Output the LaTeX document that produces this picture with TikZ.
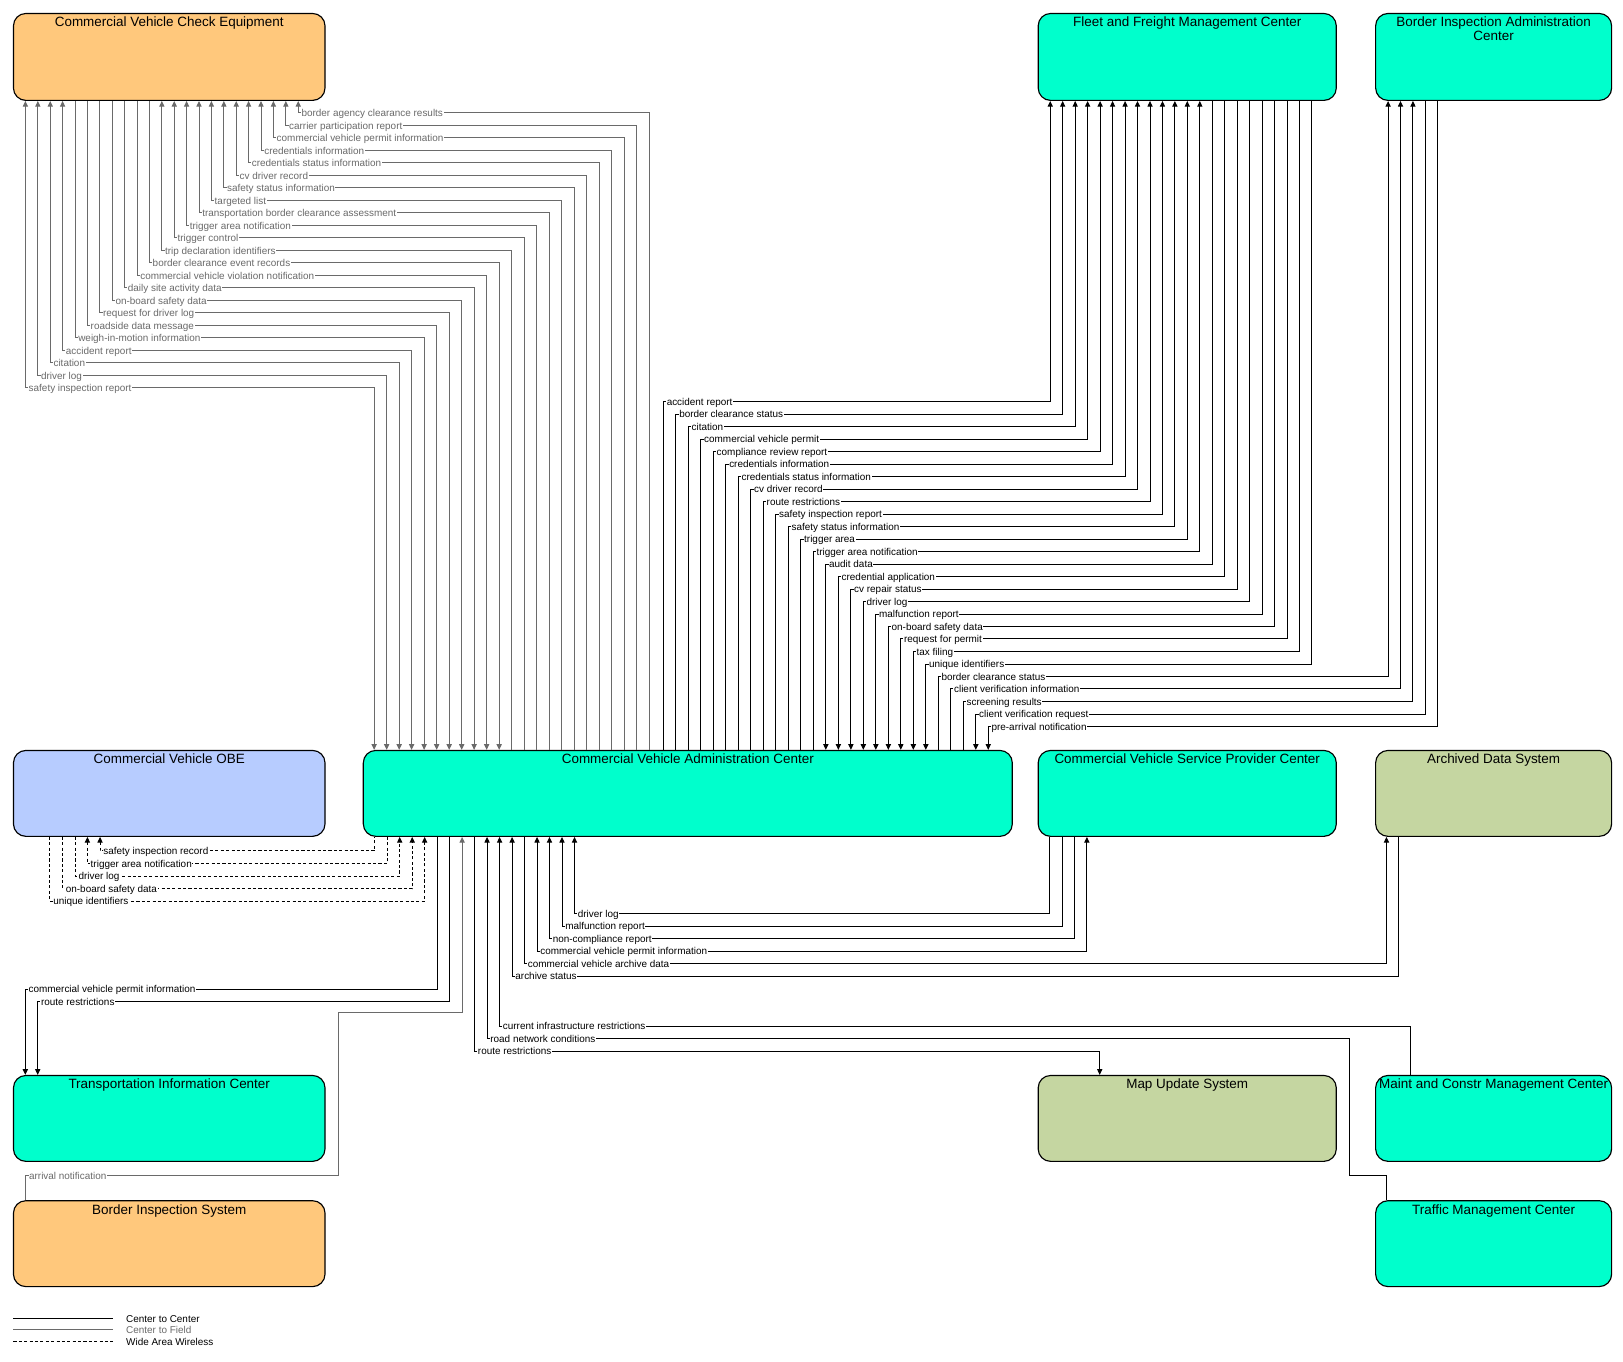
\documentclass[tikz,border=0pt]{standalone}
\usepackage{fontspec}
\setmainfont{Liberation Sans}
\usetikzlibrary{arrows.meta}
\definecolor{ccyan}{HTML}{00FFCC}
\definecolor{corange}{HTML}{FFC87C}
\definecolor{cblue}{HTML}{B7CCFF}
\definecolor{colive}{HTML}{C5D6A1}
\definecolor{cgray}{HTML}{6A6A6A}
\newcommand\lblfont{\fontsize{9.6}{11}\selectfont}
\newcommand\ttlfont{\fontsize{13}{14.2}\selectfont}
% #1 line style, #2 label colour, #3 start anchor, #4 start shift, #5 end anchor, #6 end shift, #7 y, #8 text, #9 label name
\newcommand\flow[9]{%
  \path ([xshift=#4pt]#3) coordinate (pA) ([xshift=#6pt]#5) coordinate (pB);
  \draw[#1] (pA) -- (pA |- 0,#7) -- (pB |- 0,#7) -- (pB);
  \node[lbl,text=#2] (#9) at (pA |- 0,#7) {#8};
}
\tikzset{
  box/.style={draw=black, line width=1.1pt, rounded corners=12pt, inner sep=0pt},
  ttl/.style={font=\ttlfont, anchor=base, inner sep=0pt},
  lbl/.style={font=\lblfont, fill=white, inner sep=0.6pt, anchor=base west, xshift=2.4pt, yshift=-3.6pt},
  leg/.style={font=\lblfont, anchor=base west, inner sep=0pt, yshift=-3.5pt},
  cc/.style={draw=black, line width=0.95pt},
  cf/.style={draw=cgray, line width=0.95pt},
  wa/.style={draw=black, line width=0.95pt, dash pattern=on 3pt off 2.2pt}
}
\begin{document}
\begin{tikzpicture}[x=1pt,y=-1pt,>={Triangle[width=5pt,length=5.5pt]}]
\fill[white] (0,0) rectangle (1568,1315);
\useasboundingbox (0,0) rectangle (1568,1315);

% ---------- boxes ----------
\node[box, fill=corange, minimum width=301pt, minimum height=84pt] (cvce) at (163.5,55) {};
\node[box, fill=ccyan, minimum width=288pt, minimum height=84pt] (ffmc) at (1147,55) {};
\node[box, fill=ccyan, minimum width=228pt, minimum height=84pt] (biac) at (1443,55) {};
\node[box, fill=cblue, minimum width=301pt, minimum height=83pt] (obe) at (163.5,766.5) {};
\node[box, fill=ccyan, minimum width=627pt, minimum height=83pt] (cvac) at (664.5,766.5) {};
\node[box, fill=ccyan, minimum width=288pt, minimum height=83pt] (cvspc) at (1147,766.5) {};
\node[box, fill=colive, minimum width=228pt, minimum height=83pt] (ads) at (1443,766.5) {};
\node[box, fill=ccyan, minimum width=301pt, minimum height=83pt] (tic) at (163.5,1080.5) {};
\node[box, fill=colive, minimum width=288pt, minimum height=83pt] (mus) at (1147,1080.5) {};
\node[box, fill=ccyan, minimum width=228pt, minimum height=83pt] (mcmc) at (1443,1080.5) {};
\node[box, fill=corange, minimum width=301pt, minimum height=83pt] (bis) at (163.5,1201.5) {};
\node[box, fill=ccyan, minimum width=228pt, minimum height=83pt] (tmc) at (1443,1201.5) {};

% ---------- titles ----------
\node[ttl] (cvce-t) at (163.5,26) {Commercial Vehicle Check Equipment};
\node[ttl] (ffmc-t) at (1147,26) {Fleet and Freight Management Center};
\node[ttl] (biac-t1) at (1443,25.3) {Border Inspection Administration};
\node[ttl] (biac-t2) at (1443,39.5) {Center};
\node[ttl] (obe-t) at (163.5,738) {Commercial Vehicle OBE};
\node[ttl] (cvac-t) at (664.5,738) {Commercial Vehicle Administration Center};
\node[ttl] (cvspc-t) at (1147,738) {Commercial Vehicle Service Provider Center};
\node[ttl] (ads-t) at (1443,738) {Archived Data System};
\node[ttl] (tic-t) at (163.5,1052) {Transportation Information Center};
\node[ttl] (mus-t) at (1147,1052) {Map Update System};
\node[ttl] (mcmc-t) at (1443,1052) {Maint and Constr Management Center};
\node[ttl] (bis-t) at (163.5,1173) {Border Inspection System};
\node[ttl] (tmc-t) at (1443,1173) {Traffic Management Center};

% ---------- CVAC <-> Commercial Vehicle Check Equipment ----------
\flow{cf,<->}{cgray}{cvce.south west}{12.1}{cvac.north west}{11.0}{374.8}{safety inspection report}{c0}
\flow{cf,<->}{cgray}{cvce.south west}{24.1}{cvac.north west}{23.1}{362.7}{driver log}{c1}
\flow{cf,<->}{cgray}{cvce.south west}{36.1}{cvac.north west}{35.2}{350.6}{citation}{c2}
\flow{cf,<->}{cgray}{cvce.south west}{48.0}{cvac.north west}{47.2}{338.5}{accident report}{c3}
\flow{cf,->}{cgray}{cvce.south west}{60.0}{cvac.north west}{59.3}{326.4}{weigh-in-motion information}{c4}
\flow{cf,->}{cgray}{cvce.south west}{72.0}{cvac.north west}{71.4}{314.4}{roadside data message}{c5}
\flow{cf,->}{cgray}{cvce.south west}{84.0}{cvac.north west}{83.5}{302.3}{request for driver log}{c6}
\flow{cf,->}{cgray}{cvce.south west}{96.0}{cvac.north west}{95.6}{290.2}{on-board safety data}{c7}
\flow{cf,->}{cgray}{cvce.south west}{107.9}{cvac.north west}{107.6}{278.1}{daily site activity data}{c8}
\flow{cf,->}{cgray}{cvce.south west}{119.9}{cvac.north west}{119.7}{266.0}{commercial vehicle violation notification}{c9}
\flow{cf,->}{cgray}{cvce.south west}{131.9}{cvac.north west}{131.8}{254.0}{border clearance event records}{c10}
\flow{cf,<-}{cgray}{cvce.south west}{143.9}{cvac.north west}{143.9}{241.9}{trip declaration identifiers}{c11}
\flow{cf,<-}{cgray}{cvce.south west}{155.9}{cvac.north west}{156.0}{229.8}{trigger control}{c12}
\flow{cf,<-}{cgray}{cvce.south west}{167.8}{cvac.north west}{168.0}{217.7}{trigger area notification}{c13}
\flow{cf,<-}{cgray}{cvce.south west}{179.8}{cvac.north west}{180.1}{205.6}{transportation border clearance assessment}{c14}
\flow{cf,<-}{cgray}{cvce.south west}{191.8}{cvac.north west}{192.2}{193.6}{targeted list}{c15}
\flow{cf,<-}{cgray}{cvce.south west}{203.8}{cvac.north west}{204.3}{181.5}{safety status information}{c16}
\flow{cf,<-}{cgray}{cvce.south west}{215.8}{cvac.north west}{216.4}{169.4}{cv driver record}{c17}
\flow{cf,<-}{cgray}{cvce.south west}{227.7}{cvac.north west}{228.4}{157.3}{credentials status information}{c18}
\flow{cf,<-}{cgray}{cvce.south west}{239.7}{cvac.north west}{240.5}{145.2}{credentials information}{c19}
\flow{cf,<-}{cgray}{cvce.south west}{251.7}{cvac.north west}{252.6}{133.2}{commercial vehicle permit information}{c20}
\flow{cf,<-}{cgray}{cvce.south west}{263.7}{cvac.north west}{264.7}{121.1}{carrier participation report}{c21}
\flow{cf,<-}{cgray}{cvce.south west}{275.7}{cvac.north west}{276.8}{109.0}{border agency clearance results}{c22}

% ---------- CVAC <-> Fleet and Freight Management Center ----------
\flow{cc,->}{black}{cvac.north west}{290.5}{ffmc.south west}{12.2}{388.0}{accident report}{f0}
\flow{cc,->}{black}{cvac.north west}{302.6}{ffmc.south west}{24.2}{400.1}{border clearance status}{f1}
\flow{cc,->}{black}{cvac.north west}{314.6}{ffmc.south west}{36.3}{412.1}{citation}{f2}
\flow{cc,->}{black}{cvac.north west}{326.7}{ffmc.south west}{48.3}{424.2}{commercial vehicle permit}{f3}
\flow{cc,->}{black}{cvac.north west}{338.8}{ffmc.south west}{60.4}{436.3}{compliance review report}{f4}
\flow{cc,->}{black}{cvac.north west}{350.9}{ffmc.south west}{72.4}{448.4}{credentials information}{f5}
\flow{cc,->}{black}{cvac.north west}{362.9}{ffmc.south west}{84.5}{460.4}{credentials status information}{f6}
\flow{cc,->}{black}{cvac.north west}{375.0}{ffmc.south west}{96.5}{472.5}{cv driver record}{f7}
\flow{cc,->}{black}{cvac.north west}{387.1}{ffmc.south west}{108.6}{484.6}{route restrictions}{f8}
\flow{cc,->}{black}{cvac.north west}{399.1}{ffmc.south west}{120.6}{496.6}{safety inspection report}{f9}
\flow{cc,->}{black}{cvac.north west}{411.2}{ffmc.south west}{132.6}{508.7}{safety status information}{f10}
\flow{cc,->}{black}{cvac.north west}{423.3}{ffmc.south west}{144.6}{520.8}{trigger area}{f11}
\flow{cc,->}{black}{cvac.north west}{435.3}{ffmc.south west}{156.7}{532.8}{trigger area notification}{f12}
\flow{cc,<-}{black}{cvac.north west}{447.4}{ffmc.south west}{168.7}{544.9}{audit data}{f13}
\flow{cc,<-}{black}{cvac.north west}{459.5}{ffmc.south west}{180.8}{557.0}{credential application}{f14}
\flow{cc,<-}{black}{cvac.north west}{471.6}{ffmc.south west}{192.8}{569.1}{cv repair status}{f15}
\flow{cc,<-}{black}{cvac.north west}{483.6}{ffmc.south west}{204.8}{581.1}{driver log}{f16}
\flow{cc,<-}{black}{cvac.north west}{495.7}{ffmc.south west}{216.9}{593.2}{malfunction report}{f17}
\flow{cc,<-}{black}{cvac.north west}{507.8}{ffmc.south west}{228.9}{605.3}{on-board safety data}{f18}
\flow{cc,<-}{black}{cvac.north west}{519.8}{ffmc.south west}{241.0}{617.3}{request for permit}{f19}
\flow{cc,<-}{black}{cvac.north west}{531.9}{ffmc.south west}{253.0}{629.4}{tax filing}{f20}
\flow{cc,<-}{black}{cvac.north west}{544.0}{ffmc.south west}{265.0}{641.5}{unique identifiers}{f21}

% ---------- CVAC <-> Border Inspection Administration Center ----------
\flow{cc,->}{black}{cvac.north west}{556.0}{biac.south west}{12.6}{653.5}{border clearance status}{b0}
\flow{cc,->}{black}{cvac.north west}{568.1}{biac.south west}{24.6}{665.6}{client verification information}{b1}
\flow{cc,->}{black}{cvac.north west}{580.2}{biac.south west}{36.6}{677.7}{screening results}{b2}
\flow{cc,<-}{black}{cvac.north west}{592.3}{biac.south west}{48.6}{689.8}{client verification request}{b3}
\flow{cc,<-}{black}{cvac.north west}{604.3}{biac.south west}{60.6}{701.8}{pre-arrival notification}{b4}

% ---------- CVAC <-> Commercial Vehicle OBE ----------
\flow{wa,<-}{black}{obe.south west}{84.2}{cvac.south west}{11.6}{822.0}{safety inspection record}{o0}
\flow{wa,<-}{black}{obe.south west}{72.0}{cvac.south west}{23.7}{834.2}{trigger area notification}{o1}
\flow{wa,->}{black}{obe.south west}{60.2}{cvac.south west}{35.7}{846.3}{driver log}{o2}
\flow{wa,->}{black}{obe.south west}{48.0}{cvac.south west}{47.8}{858.5}{on-board safety data}{o3}
\flow{wa,->}{black}{obe.south west}{35.8}{cvac.south west}{59.8}{870.6}{unique identifiers}{o4}

% ---------- CVAC <-> Transportation Information Center ----------
\flow{cc,<-}{black}{tic.north west}{12.0}{cvac.south west}{71.9}{955.6}{commercial vehicle permit information}{t0}
\flow{cc,<-}{black}{tic.north west}{24.0}{cvac.south west}{84.0}{967.7}{route restrictions}{t1}

% ---------- CVAC <-> Service Provider / Archive ----------
\flow{cc,<-}{black}{cvac.south west}{204.6}{cvspc.south west}{11.9}{882.5}{driver log}{s0}
\flow{cc,<-}{black}{cvac.south west}{192.5}{cvspc.south west}{23.7}{894.6}{malfunction report}{s1}
\flow{cc,<-}{black}{cvac.south west}{180.4}{cvspc.south west}{35.8}{906.7}{non-compliance report}{s2}
\flow{cc,<->}{black}{cvac.south west}{168.4}{cvspc.south west}{47.6}{918.8}{commercial vehicle permit information}{s3}
\flow{cc,->}{black}{cvac.south west}{156.3}{ads.south west}{11.0}{930.9}{commercial vehicle archive data}{a0}
\flow{cc,<-}{black}{cvac.south west}{144.3}{ads.south west}{23.0}{943.0}{archive status}{a1}

% ---------- CVAC <-> Map Update / Maint and Constr ----------
\flow{cc,<-}{black}{cvac.south west}{132.2}{mcmc.north west}{34.0}{991.3}{current infrastructure restrictions}{m0}
\flow{cc,->}{black}{cvac.south west}{108.1}{mus.north west}{60.0}{1015.5}{route restrictions}{u0}

% ---------- CVAC <- Traffic Management Center ----------
\path ([xshift=120.1pt]cvac.south west) coordinate (tA) ([xshift=11pt]tmc.north west) coordinate (tB);
\draw[cc,<-] (tA) -- (tA |- 0,1003.2) -- (1303.5,1003.2) -- (1303.5,1135.6) -- (tB |- 0,1135.6) -- (tB);
\node[lbl] (r0) at (tA |- 0,1003.2) {road network conditions};

% ---------- CVAC <- Border Inspection System ----------
\path ([xshift=96pt]cvac.south west) coordinate (bA) ([xshift=12.5pt]bis.north west) coordinate (bB);
\draw[cf,->] (bB) -- (bB |- 0,1135.6) -- (327,1135.6) -- (327,978) -- (bA |- 0,978) -- (bA);
\node[lbl,text=cgray] (n0) at (bB |- 0,1135.6) {arrival notification};

% ---------- legend ----------
\coordinate (lga1) at (13,1273.7); \coordinate (lgb1) at (109,1273.7);
\coordinate (lga2) at (13,1284.6); \coordinate (lgb2) at (109,1284.6);
\coordinate (lga3) at (13,1296.3); \coordinate (lgb3) at (109,1296.3);
\draw[cc] (lga1) -- (lgb1);
\draw[cf] (lga2) -- (lgb2);
\draw[wa] (lga3) -- (lgb3);
\node[leg] (lgt1) at (121.7,1273.7) {Center to Center};
\node[leg,text=cgray] (lgt2) at (121.7,1284.6) {Center to Field};
\node[leg] (lgt3) at (121.7,1296.3) {Wide Area Wireless};
\end{tikzpicture}
\end{document}
